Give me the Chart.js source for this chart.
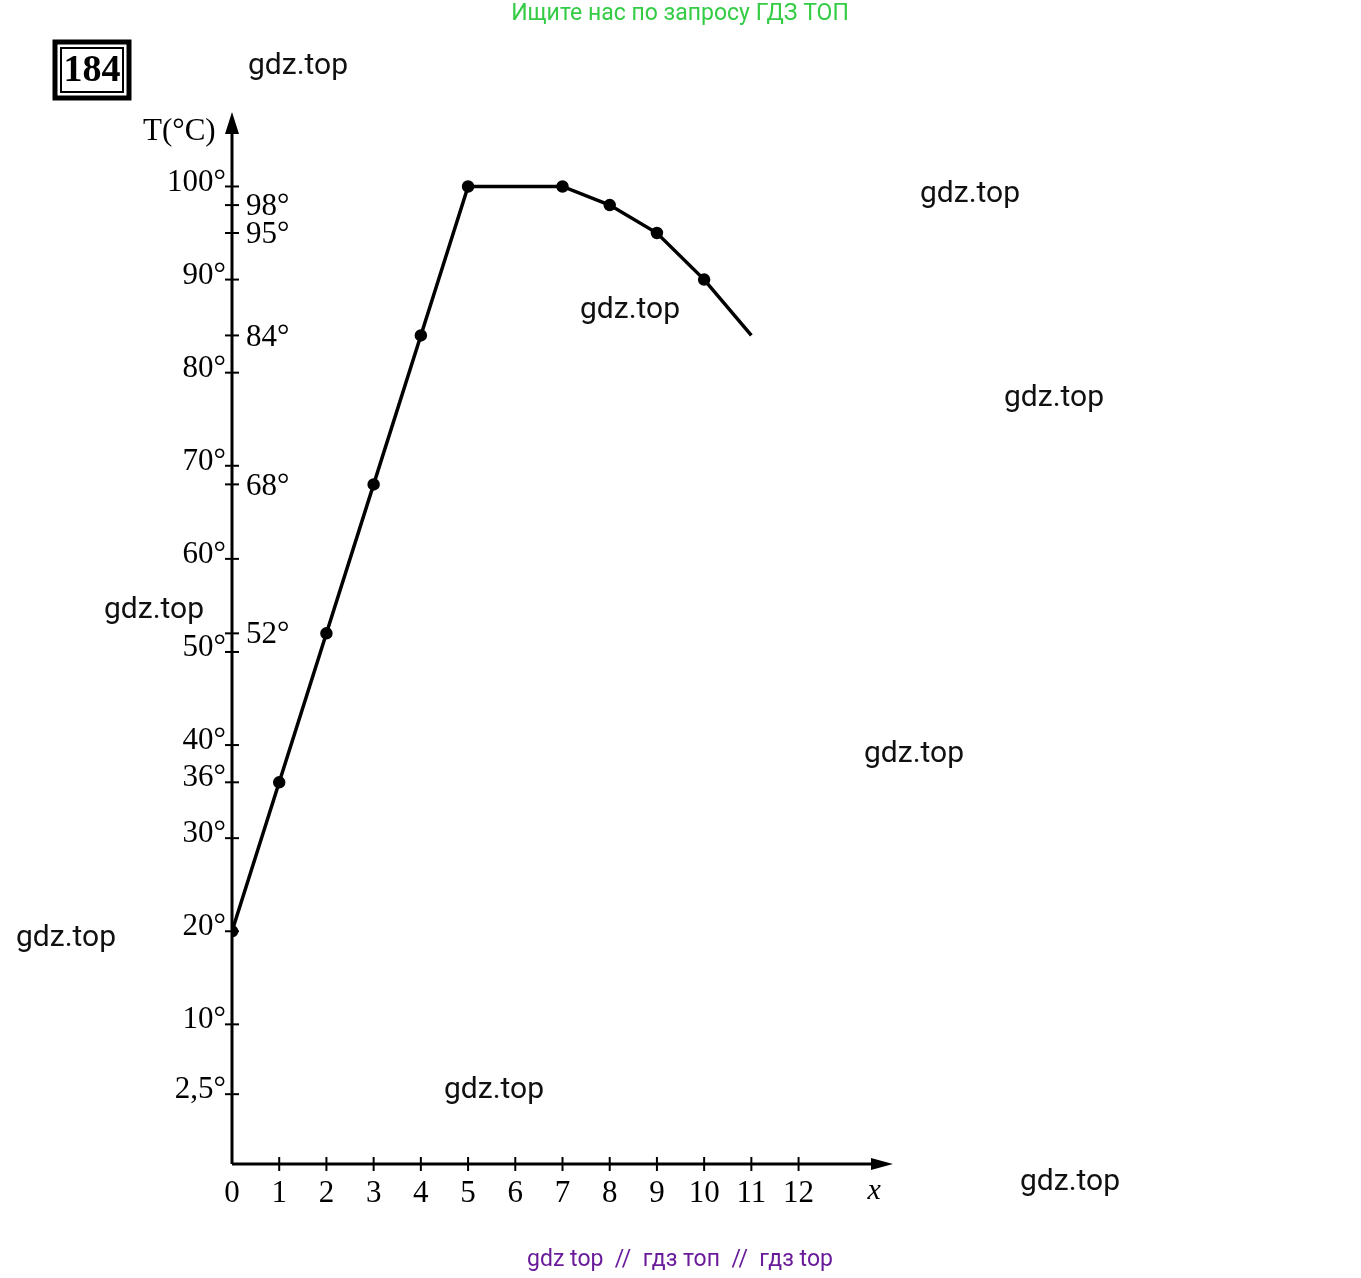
<!DOCTYPE html>
<html>
<head>
<meta charset="utf-8">
<script src="https://cdn.jsdelivr.net/npm/chart.js@4"></script>
<style>
  body { margin: 0; background: #fff; }
  canvas { display: block; }
</style>
</head>
<body>
<canvas id="c" width="1361" height="1278"></canvas>
<script>
// minutes and temperature
const minutes = [0, 1, 2, 3, 4, 5, 6, 7, 8, 9, 10, 11];
const temps = [20, 36, 52, 68, 84, 100, 100, 100, 98, 95, 90, 84];
const dotted = [true, true, true, true, true, true, false, true, true, true, true, false];
const xTicks = [0, 1, 2, 3, 4, 5, 6, 7, 8, 9, 10, 11, 12];
const leftTicks = [100, 90, 80, 70, 60, 50, 40, 36, 30, 20, 10, 2.5];
const rightTicks = [98, 95, 84, 68, 52];
const marks = [
  ["gdz.top", 298, 66], ["gdz.top", 970, 194], ["gdz.top", 630, 310],
  ["gdz.top", 1054, 398], ["gdz.top", 154, 610], ["gdz.top", 914, 754],
  ["gdz.top", 66, 938], ["gdz.top", 494, 1090], ["gdz.top", 1070, 1182]
];

const fmt = v => String(v).replace(".", ",") + "°";
const serif = "'Liberation Serif', 'DejaVu Serif', serif";

const axesPlugin = {
  id: "axes",
  afterDatasetsDraw(chart) {
    const ctx = chart.ctx;
    const xs = chart.scales.x, ys = chart.scales.y;
    const x0 = xs.getPixelForValue(0), y0 = ys.getPixelForValue(-5);
    const xEnd = xs.right, yTop = ys.top;
    ctx.save();
    ctx.strokeStyle = "#000";
    ctx.fillStyle = "#000";
    ctx.lineWidth = 3;
    ctx.beginPath();
    ctx.moveTo(x0, y0); ctx.lineTo(x0, yTop + 10);
    ctx.moveTo(x0, y0); ctx.lineTo(xEnd - 10, y0);
    ctx.stroke();
    // arrows
    ctx.beginPath();
    ctx.moveTo(x0, yTop); ctx.lineTo(x0 - 7, yTop + 22); ctx.lineTo(x0 + 7, yTop + 22); ctx.closePath();
    ctx.moveTo(xEnd, y0); ctx.lineTo(xEnd - 22, y0 - 6); ctx.lineTo(xEnd - 22, y0 + 6); ctx.closePath();
    ctx.fill();
    ctx.lineWidth = 2;
    ctx.font = "31px " + serif;
    // x ticks
    ctx.textAlign = "center"; ctx.textBaseline = "top";
    xTicks.forEach(v => {
      const px = xs.getPixelForValue(v);
      if (v > 0) { ctx.beginPath(); ctx.moveTo(px, y0 - 7); ctx.lineTo(px, y0 + 7); ctx.stroke(); }
      ctx.fillText(String(v), px, y0 + 14);
    });
    ctx.font = "italic 30px " + serif;
    ctx.fillText("x", xs.getPixelForValue(13.6), y0 + 12);
    // y ticks
    ctx.font = "31px " + serif;
    ctx.textBaseline = "middle";
    ctx.textAlign = "right";
    leftTicks.forEach(v => {
      const py = ys.getPixelForValue(v);
      ctx.beginPath(); ctx.moveTo(x0 - 7, py); ctx.lineTo(x0 + 7, py); ctx.stroke();
      ctx.fillText(fmt(v), x0 - 6, py - 4);
    });
    ctx.textAlign = "left";
    rightTicks.forEach(v => {
      const py = ys.getPixelForValue(v);
      ctx.beginPath(); ctx.moveTo(x0 - 7, py); ctx.lineTo(x0 + 7, py); ctx.stroke();
      ctx.fillText(fmt(v), x0 + 14, py + 2);
    });
    ctx.fillText("T(°C)", 143, 132);
    // problem number box
    ctx.lineWidth = 5;
    ctx.strokeRect(55, 42, 74, 56);
    ctx.lineWidth = 2;
    ctx.strokeRect(61, 48, 62, 44);
    ctx.font = "bold 38px " + serif;
    ctx.textAlign = "center";
    ctx.fillText("184", 92, 71);
    // watermarks
    ctx.font = "30px Roboto, sans-serif";
    ctx.fillStyle = "#111";
    marks.forEach(([t, x, y]) => ctx.fillText(t, x, y));
    ctx.font = "23px Roboto, sans-serif";
    ctx.fillStyle = "#33cc44";
    ctx.fillText("Ищите нас по запросу ГДЗ ТОП", 680, 14);
    ctx.fillStyle = "#6a1b9a";
    ctx.fillText("gdz top  //  гдз топ  //  гдз top", 680, 1260);
    ctx.restore();
  }
};

new Chart(document.getElementById("c"), {
  type: "line",
  data: {
    labels: minutes,
    datasets: [{
      data: minutes.map((m, i) => ({ x: m, y: temps[i] })),
      borderColor: "#000",
      borderWidth: 3.5,
      backgroundColor: "#000",
      pointRadius: dotted.map(d => d ? 4.5 : 0),
      tension: 0
    }]
  },
  options: {
    responsive: false,
    animation: false,
    devicePixelRatio: 1,
    layout: { padding: { left: 232, right: 468, top: 112, bottom: 114 } },
    plugins: { legend: { display: false }, tooltip: { enabled: false } },
    scales: {
      x: { type: "linear", min: 0, max: 14, display: false },
      y: { type: "linear", min: -5, max: 108, display: false }
    }
  },
  plugins: [axesPlugin]
});
</script>
</body>
</html>
